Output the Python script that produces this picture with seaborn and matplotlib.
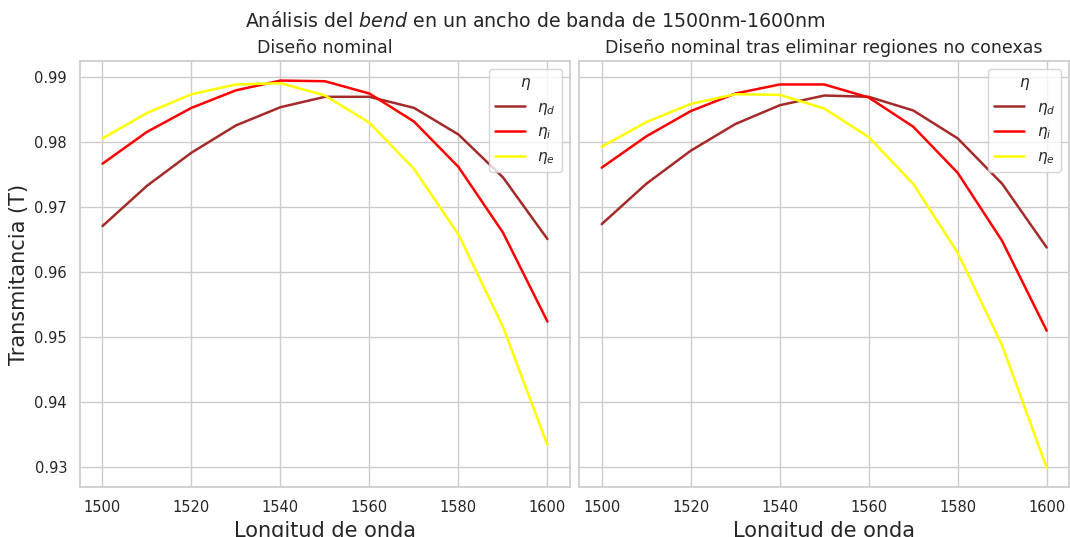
import numpy as np
import pandas as pd
import matplotlib
matplotlib.use("Agg")
import matplotlib.pyplot as plt
import seaborn as sns

wavelength = [1500, 1510, 1520, 1530, 1540, 1550, 1560, 1570, 1580, 1590, 1600]

# Diseño nominal
nom_eta_d = [0.9671, 0.9733, 0.9784, 0.9826, 0.9854, 0.9870, 0.9870, 0.9853, 0.9812, 0.9746, 0.9651]
nom_eta_i = [0.9767, 0.9816, 0.9853, 0.9880, 0.9895, 0.9894, 0.9875, 0.9832, 0.9762, 0.9661, 0.9524]
nom_eta_e = [0.9806, 0.9845, 0.9874, 0.9889, 0.9891, 0.9872, 0.9830, 0.9759, 0.9658, 0.9516, 0.9334]

# Diseño nominal tras eliminar regiones no conexas
con_eta_d = [0.9674, 0.9736, 0.9787, 0.9828, 0.9857, 0.9872, 0.9870, 0.9849, 0.9806, 0.9736, 0.9638]
con_eta_i = [0.9761, 0.9809, 0.9848, 0.9875, 0.9889, 0.9889, 0.9869, 0.9824, 0.9753, 0.9648, 0.9510]
con_eta_e = [0.9793, 0.9831, 0.9859, 0.9874, 0.9873, 0.9852, 0.9808, 0.9736, 0.9630, 0.9487, 0.9299]

labels = [r"$\eta_d$", r"$\eta_i$", r"$\eta_e$"]
colors = ["brown", "red", "yellow"]


def long_form(series):
    rows = []
    for lab, vals in zip(labels, series):
        for x, y in zip(wavelength, vals):
            rows.append({"Longitud de onda": x, "T": y, "eta": lab})
    return pd.DataFrame(rows)


sns.set_theme(style="whitegrid")
fig, axes = plt.subplots(1, 2, figsize=(10.7, 5.37), dpi=100, sharey=True)

panels = [
    ("Diseño nominal", [nom_eta_d, nom_eta_i, nom_eta_e]),
    ("Diseño nominal tras eliminar regiones no conexas", [con_eta_d, con_eta_i, con_eta_e]),
]

for ax, (title, series) in zip(axes, panels):
    df = long_form(series)
    sns.lineplot(data=df, x="Longitud de onda", y="T", hue="eta",
                 palette=dict(zip(labels, colors)), ax=ax, linewidth=1.8)
    ax.set_title(title, fontsize=12.5)
    ax.set_xlabel("Longitud de onda", fontsize=15)
    ax.set_ylabel("")
    ax.tick_params(labelsize=10.5)
    leg = ax.legend(title=r"$\eta$", loc="upper right", fontsize=11, title_fontsize=11)

axes[0].set_ylabel("Transmitancia (T)", fontsize=15)
fig.suptitle(r"Análisis del $\it{bend}$ en un ancho de banda de 1500nm-1600nm", fontsize=13.7, y=0.98)
fig.subplots_adjust(left=0.075, right=0.999, top=0.886, bottom=0.093, wspace=0.02)
fig.savefig("out.png", dpi=100)
